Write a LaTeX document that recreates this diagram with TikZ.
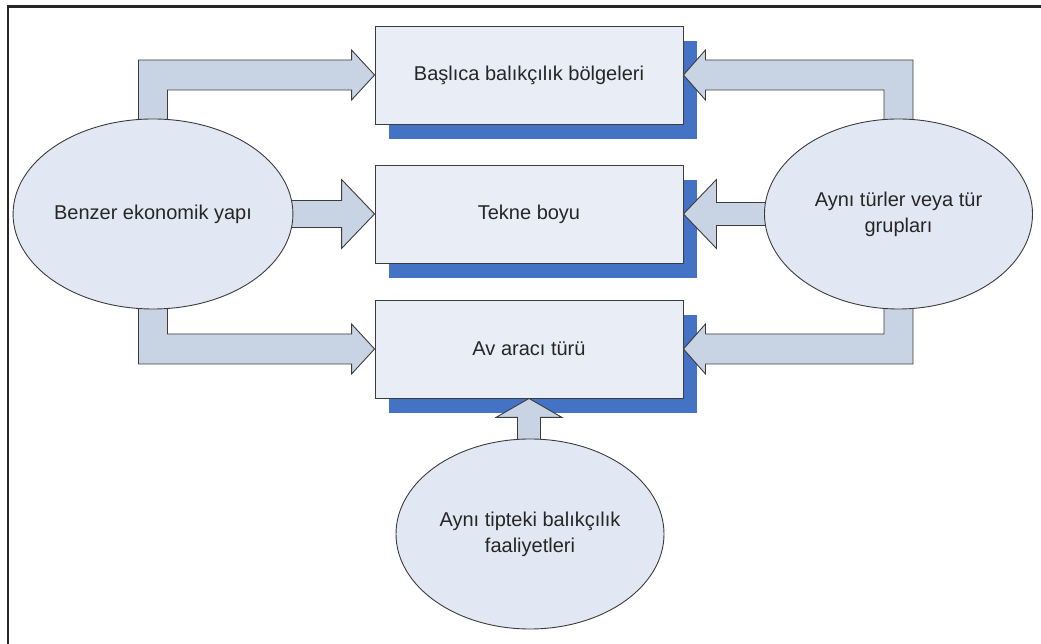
\documentclass[tikz,border=0pt]{standalone}
\usepackage{fontspec}
\setmainfont{Liberation Sans}
\usepackage{tikz}
\usetikzlibrary{calc,backgrounds,shadows,shapes.geometric}

\definecolor{kutudolgu}{RGB}{232,237,246}
\definecolor{elipsdolgu}{RGB}{226,232,243}
\definecolor{okdolgu}{RGB}{200,212,228}
\definecolor{golge}{RGB}{68,114,196}
\definecolor{cizgi}{RGB}{60,60,60}

\begin{document}
\begin{tikzpicture}[x=1pt,y=1pt,
	kutu/.style={draw=cizgi,line width=0.9pt,fill=kutudolgu,minimum width=308pt,minimum height=98pt,inner sep=0pt,
		font=\fontsize{20}{26}\selectfont,text=black!85,
		drop shadow={shadow xshift=14pt,shadow yshift=-15pt,opacity=1,fill=golge}},
	elips/.style={ellipse,draw=cizgi,line width=0.9pt,fill=elipsdolgu,minimum width=268pt,minimum height=190pt,inner sep=0pt,
		align=center,font=\fontsize{20}{26}\selectfont,text=black!85},
	blokok/.style={draw=cizgi,line width=0.9pt,fill=okdolgu,line join=miter}]
	\useasboundingbox (0,0) rectangle (1041,644);
	
	%frame (cut at right and bottom)
	\draw[line width=2.2pt,black!85] (8,0)--(8,637.5)--(1041,637.5);
	
	%ellipses
	\node[elips] (benzer) at (153,430) {Benzer ekonomik yap\i};
	\node[elips] (ayni) at (898.5,430) {Ayn\i{} t\"urler veya t\"ur\\gruplar\i};
	\node[elips] (tipteki) at (530,110) {Ayn\i{} tipteki bal\i k\c c\i l\i k\\faaliyetleri};
	
	\begin{scope}[on background layer]
	%boxes
	\node[kutu] (basli) at (529,569) {Ba\c sl\i ca bal\i k\c c\i l\i k b\"olgeleri};
	\node[kutu] (tekne) at (529,430) {Tekne boyu};
	\node[kutu] (avarac) at (529,295) {Av arac\i{} t\"ur\"u};
	
	%left arrows
	\draw[blokok] ($(benzer.north)+(-14.5,-10)$) |- ($(basli.west)+(-23,15)$) -- ++(0,10) -- (basli.west)
		-- ++(-23,-25) -- ++(0,10) -| ($(benzer.north)+(14.5,-10)$) -- cycle;		%top
	\draw[blokok] ($(benzer.east)+(-10,13.5)$) -- ($(tekne.west)+(-33,13.5)$) -- ++(0,21) -- (tekne.west)
		-- ++(-33,-34.5) -- ++(0,21) -- ($(benzer.east)+(-10,-13.5)$) -- cycle;		%middle
	\draw[blokok] ($(benzer.south)+(-14.5,10)$) |- ($(avarac.west)+(-23,-15)$) -- ++(0,-10) -- (avarac.west)
		-- ++(-23,25) -- ++(0,-10) -| ($(benzer.south)+(14.5,10)$) -- cycle;		%bottom
	%
	%right arrows
	\draw[blokok] ($(ayni.north)+(14.5,-10)$) |- ($(basli.east)+(22,15)$) -- ++(0,10) -- (basli.east)
		-- ++(22,-25) -- ++(0,10) -| ($(ayni.north)+(-14.5,-10)$) -- cycle;		%top
	\draw[blokok] ($(ayni.west)+(10,11.5)$) -- ($(tekne.east)+(33,11.5)$) -- ++(0,23) -- (tekne.east)
		-- ++(33,-34.5) -- ++(0,23) -- ($(ayni.west)+(10,-11.5)$) -- cycle;		%middle
	\draw[blokok] ($(ayni.south)+(14.5,10)$) |- ($(avarac.east)+(22,-15)$) -- ++(0,-10) -- (avarac.east)
		-- ++(22,25) -- ++(0,-10) -| ($(ayni.south)+(-14.5,10)$) -- cycle;		%bottom
	%
	%lower arrow
	\draw[blokok] ($(avarac.south |- tipteki.north)+(-11.5,-10)$) -- ($(avarac.south)+(-11.5,-19)$) -- ++(-21.5,0)
		-- (avarac.south) -- ++(33,-19) -- ++(-21.5,0) -- ($(avarac.south |- tipteki.north)+(11.5,-10)$) -- cycle;
	\end{scope}
\end{tikzpicture}
\end{document}
